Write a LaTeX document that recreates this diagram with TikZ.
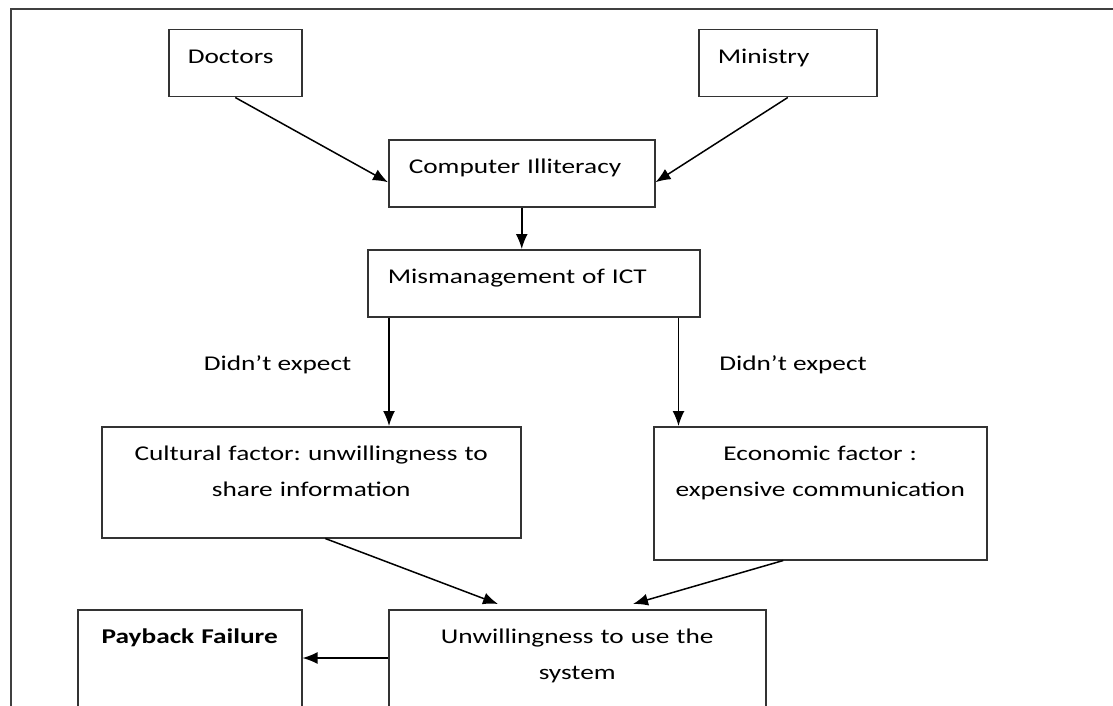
\documentclass[tikz,border=0pt]{standalone}
\usepackage{fontspec}
\setmainfont{Carlito}[FakeStretch=1.3]
\usetikzlibrary{arrows.meta,positioning}
\frenchspacing

\begin{document}
\begin{tikzpicture}[x=1pt,y=-1pt,
		box/.style={draw=black!80, line width=1.5pt, inner sep=0pt, anchor=north west,
			text height=34pt, font=\fontsize{21}{36}\selectfont},
		lbox/.style={box, align=left},
		cbox/.style={box, align=center},
		note/.style={inner sep=3pt, font=\fontsize{21}{36}\selectfont},
		>={Latex[length=15pt,width=12pt]}, line width=1.5pt]
	\useasboundingbox (0,0) rectangle (1113,706);
	\clip (0,0) rectangle (1113,706);
	\draw[black!75] (11,706) -- (11,9) -- (1113,9);
	% boxes
	\node[lbox, minimum width=133pt, text width=95pt, text depth=33pt] (doctors) at (168,29) {Doctors};
	\node[lbox, minimum width=178pt, text width=140pt, text depth=33pt] (ministry) at (698,29) {Ministry};
	\node[lbox, minimum width=266pt, text width=226pt, text depth=33pt] (compill) at (388,139) {Computer Illiteracy};
	\node[lbox, minimum width=332pt, text width=292pt, text depth=33pt] (mismgmt) at (367,249) {Mismanagement of ICT};
	\node[cbox, minimum width=419pt, text width=379pt, text depth=77pt] (cultural) at (101,426) {Cultural factor: unwillingness to\\ share information};
	\node[cbox, minimum width=333pt, text width=293pt, text depth=99pt] (economic) at (653,426) {Economic factor :\\ expensive communication};
	\node[cbox, minimum width=377pt, text width=337pt, text depth=86pt] (unwill) at (388,609) {Unwillingness to use the\\ system};
	\node[cbox, minimum width=224pt, text width=184pt, text depth=86pt, font=\fontsize{21}{36}\selectfont\bfseries] (payback) at (77,609) {Payback Failure};
	% arrows
	\draw[->] (doctors.south) -- ([yshift=-9pt]compill.west);
	\draw[->] (ministry.south) -- ([yshift=-9pt]compill.east);
	\draw[->] (compill.south) -- (compill.south |- mismgmt.north);
	\coordinate (mleft) at ([xshift=22pt]mismgmt.south west);
	\coordinate (mright) at ([xshift=-22pt]mismgmt.south east);
	\draw[->] (mleft) -- node[note, pos=.44, left=34pt] (expcult) {Didn’t expect} (mleft |- cultural.north);
	\draw[->] (mright) -- node[note, pos=.44, right=37pt] (expecon) {Didn’t expect} (mright |- economic.north);
	\draw[->] ([xshift=14pt]cultural.south) -- ([xshift=110pt,yshift=5pt]unwill.north west);
	\draw[->] ([xshift=-37pt]economic.south) -- ([xshift=245pt,yshift=5pt]unwill.north west);
	\coordinate (uw) at ([yshift=-49pt]unwill.north west);
	\draw[->] (uw) -- (uw -| payback.east);
\end{tikzpicture}
\end{document}
